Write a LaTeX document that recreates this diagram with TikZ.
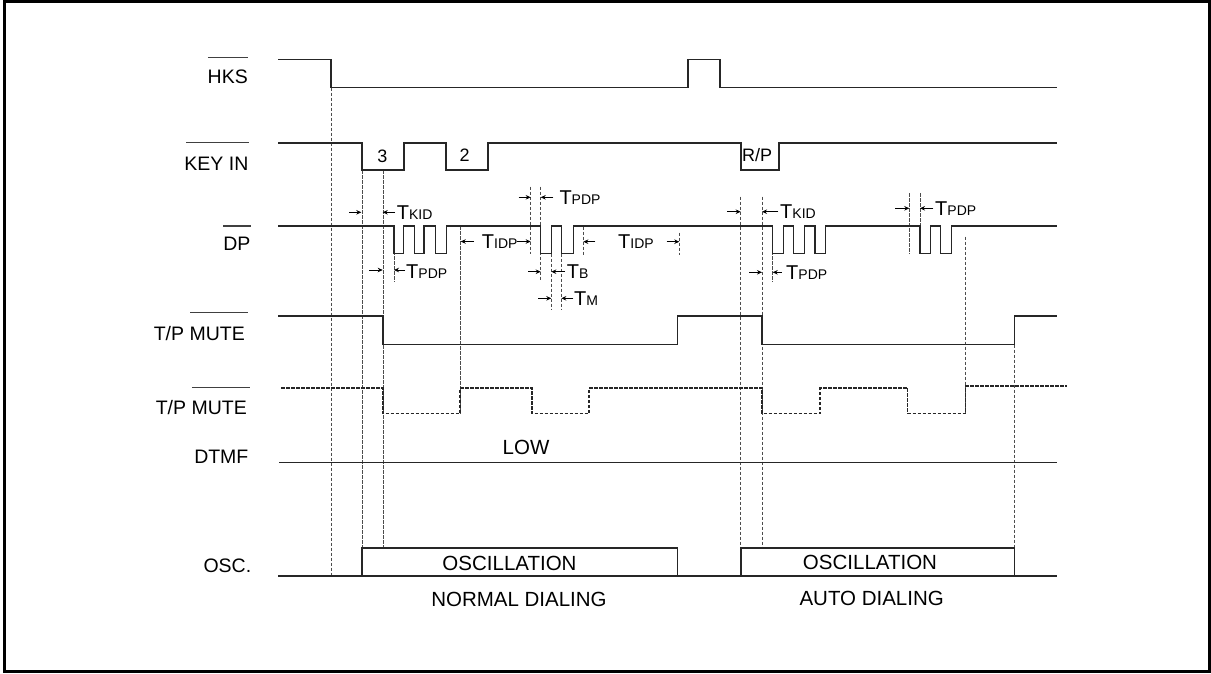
\documentclass[tikz,border=0pt]{standalone}
\usepackage{fontspec}
\setmainfont{Liberation Sans}
\usetikzlibrary{arrows.meta}
\newcommand{\Tlab}[1]{T{\fontsize{14}{14}\selectfont #1}}
\begin{document}
\begin{tikzpicture}[x=1pt,y=-1pt,
  sig/.style={line width=1.3pt, draw=black!85},
  dsig/.style={line width=1.1pt, draw=black!85, dash pattern=on 3.5pt off 1.5pt},
  guide/.style={line width=0.8pt, draw=black!70, dash pattern=on 3.5pt off 1.5pt},
  ovl/.style={line width=1.1pt, draw=black!75},
  tarrow/.style={-{Stealth[length=5pt,width=4.5pt]}, line width=0.9pt},
  lbl/.style={font=\fontsize{19.5}{20}\selectfont, inner sep=0pt, anchor=base east},
  ctxt/.style={font=\fontsize{20.5}{22}\selectfont, inner sep=0pt, anchor=base},
  ktxt/.style={font=\fontsize{18}{20}\selectfont, inner sep=0pt, anchor=base},
  tm/.style={font=\fontsize{20}{20}\selectfont, inner sep=0pt, anchor=base west},
]
\useasboundingbox (0,0) rectangle (1211,673);
\draw[line width=2.5pt] (4.5,1.5) rectangle (1209.5,671.5);

% ---- signal labels ----
\node[lbl] (lhks) at (248,83.3) {HKS};
\node[lbl] (lkey) at (248.6,170) {KEY IN};
\node[lbl] (ldp) at (250.7,250) {DP};
\node[lbl] (lmute1) at (245,340) {T/P MUTE};
\node[lbl] (lmute2) at (247,414) {T/P MUTE};
\node[lbl] (ldtmf) at (248.6,463) {DTMF};
\node[lbl] (losc) at (251.4,572.5) {OSC.};
\draw[ovl] (207.9,57.3) -- (247.9,57.3);
\draw[ovl] (186,142.7) -- (248.6,142.7);
\draw[ovl] (223.3,226) -- (250.7,226);
\draw[ovl] (190,312.7) -- (247.9,312.7);
\draw[ovl] (191.8,387.3) -- (249.6,387.3);

% ---- guides ----
\draw[guide] (331,87.5) -- (331,576);
\draw[guide] (362,170) -- (362,548);
\draw[guide] (383,170) -- (383,548);
\draw[guide] (394,226) -- (394,281.7);
\draw[guide] (460,226) -- (460,413.5);
\draw[guide] (530.7,186.7) -- (530.7,254);
\draw[guide] (540.7,186.7) -- (540.7,280.7);
\draw[guide] (551.3,253.5) -- (551.3,310);
\draw[guide] (561.3,253.5) -- (561.3,310);
\draw[guide] (583.3,226.7) -- (583.3,256.7);
\draw[guide] (679.3,232.7) -- (679.3,255);
\draw[guide] (740.7,196.7) -- (740.7,548);
\draw[guide] (762,196.7) -- (762,548);
\draw[guide] (772.7,226) -- (772.7,281.7);
\draw[guide] (909.3,193.3) -- (909.3,254);
\draw[guide] (920,193.3) -- (920,226);
\draw[guide] (965.7,236.7) -- (965.7,413.5);
\draw[guide] (1014.3,344.5) -- (1014.3,548);

% ---- signals ----
\draw[sig] (278,59.5) -| (331,87.5) -| (688,59.5) -| (720,87.5) -- (1057,87.5);
\draw[sig] (278,143) -| (362,170) -| (404,143) -| (446,170) -| (488,143) -| (741,170) -| (779,143) -- (1057,143);
\draw[sig] (278,226) -| (394,253.5) -| (403.3,226) -| (414.7,253.5) -| (424,226) -| (435.3,253.5) -| (446.7,226)
  -| (540.7,253.5) -| (551.3,226) -| (561.3,253.5) -| (573.3,226)
  -| (772.7,253.5) -| (783.3,226) -| (793.3,253.5) -| (804.3,226) -| (815,253.5) -| (825.7,226)
  -| (920,253.5) -| (930.7,226) -| (940.7,253.5) -| (951.7,226) -- (1057,226);
\draw[sig] (278,316) -| (383,344.5) -| (677.5,316) -| (762,344.5) -| (1014.3,316) -- (1057,316);
\draw[dsig] (281,388) -| (383,413.5) -| (460,388) -| (532,413.5) -| (589,388) -| (762,413.5) -| (820,388) -| (907.7,413.5) -| (965.7,386) -- (1067,386);
\draw[sig] (279,462.5) -- (1057,462.5);
\draw[sig] (278,576) -- (1057,576);
\draw[sig] (362,576) |- (677.5,548) -- (677.5,576);
\draw[sig] (741,576) |- (1014.3,548) -- (1014.3,576);

% ---- key labels ----
\node[ktxt] (k3) at (382.5,162.5) {3};
\node[ktxt] (k2) at (464.6,161.5) {2};
\node[ktxt] (krp) at (757,161.7) {R/P};

% ---- timing marks ----
\draw[tarrow] (349.3,212.3) -- (361.3,212.3);
\draw[tarrow] (395,212.3) -- (382.7,212.3);
\node[tm] (tkid1) at (396.7,219.3) {\Tlab{KID}};
\draw[tarrow] (369.3,270) -- (382.7,270);
\draw[tarrow] (405,270) -- (394,270);
\node[tm] (tpdp1) at (406,278) {\Tlab{PDP}};
\draw[tarrow] (474,241.5) -- (460.7,241.5);
\node[tm] (tidp1) at (481.7,248.5) {\Tlab{IDP}};
\draw[tarrow] (516.7,241.5) -- (530.7,241.5);
\draw[tarrow] (518.7,197.3) -- (530.7,197.3);
\draw[tarrow] (553.3,197.3) -- (540.7,197.3);
\node[tm] (tpdp2) at (559.3,204.5) {\Tlab{PDP}};
\draw[tarrow] (528.3,271.7) -- (540.7,271.7);
\draw[tarrow] (565,271.7) -- (551.3,271.7);
\node[tm] (tb) at (566.7,278.5) {\Tlab{B}};
\draw[tarrow] (538.3,298.3) -- (551.3,298.3);
\draw[tarrow] (573.3,298.3) -- (561.3,298.3);
\node[tm] (tmk) at (574,305) {\Tlab{M}};
\draw[tarrow] (595.3,241.7) -- (583.3,241.7);
\node[tm] (tidp2) at (618,248.5) {\Tlab{IDP}};
\draw[tarrow] (666.7,241.7) -- (679.3,241.7);
\draw[tarrow] (727.3,211.7) -- (740.7,211.7);
\draw[tarrow] (778.3,211.7) -- (762,211.7);
\node[tm] (tkid2) at (780,218.5) {\Tlab{KID}};
\draw[tarrow] (749.3,272.3) -- (762,272.3);
\draw[tarrow] (781.7,272.3) -- (772.7,272.3);
\node[tm] (tpdp3) at (786,279) {\Tlab{PDP}};
\draw[tarrow] (895,208.3) -- (909.3,208.3);
\draw[tarrow] (933.3,208.3) -- (920,208.3);
\node[tm] (tpdp4) at (935,215) {\Tlab{PDP}};

% ---- other texts ----
\node[ctxt] (low) at (526,454.5) {LOW};
\node[ctxt] (osc1) at (509.5,570) {OSCILLATION};
\node[ctxt] (osc2) at (870,569) {OSCILLATION};
\node[ctxt] (nd) at (519,606.5) {NORMAL DIALING};
\node[ctxt] (ad) at (871.7,605) {AUTO DIALING};
\end{tikzpicture}
\end{document}
